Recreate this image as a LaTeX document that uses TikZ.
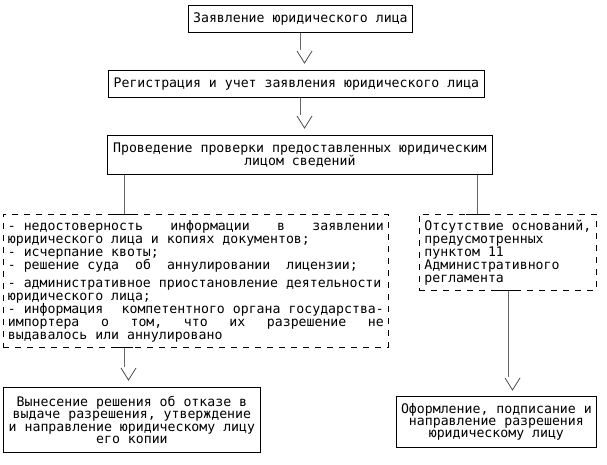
\documentclass[tikz,border=0pt]{standalone}
\usepackage{fontspec}
\newfontfamily\monofnt{DejaVu Sans Mono}
\newcommand{\boxfont}[1]{\monofnt\fontsize{13.2}{#1}\selectfont\lineskiplimit=-20pt\relax\parindent=0pt\relax}
\newcommand{\vhead}[1]{\draw[vtip] (#1) ++(-3,1) -- ++(7.5,12) -- ++(7.5,-12);}
\newcommand{\jline}[2]{\makebox[#1][l]{#2}}
\tikzset{
  txt/.style={font={\boxfont{13}}, inner sep=0pt},
  box/.style={txt, draw, line width=.8pt, anchor=north west, align=center},
  dbox/.style={txt, draw, line width=.8pt, dash pattern=on 6pt off 6pt, anchor=north west, align=left},
  stem/.style={line width=1pt, black!60},
  vtip/.style={line width=.8pt, black!70},
  joint/.style={line width=.8pt}
}
\begin{document}
\begin{tikzpicture}[x=1pt,y=-1pt]
\useasboundingbox (0,0) rectangle (607,465);
\node[box,minimum width=224,minimum height=27] (zayav) at (188,5) {Заявление юридического лица};
\node[box,minimum width=376,minimum height=27] (reg) at (108,70) {Регистрация и учет заявления юридического лица};
\node[box,minimum width=385,minimum height=39] (check) at (107,135) {Проведение проверки предоставленных юридическим\\лицом сведений};
\node[dbox,text width=376pt,minimum width=385,minimum height=133] (fail) at (3,214) {%
\spaceskip=0pt\relax\xspaceskip=0pt\relax
\jline{376pt}{- недостоверность\hfill\ информации\hfill\ в\hfill\ заявлении}\\
юридического лица и копиях документов;\\
- исчерпание квоты;\\
\jline{350pt}{- решение суда\hfill\ об\hfill\ аннулировании\hfill\ лицензии;}\\[5pt]
- административное приостановление деятельности\\
юридического лица;\\
\jline{376pt}{- информация\hfill\ компетентного органа государства-}\\
\jline{376pt}{импортера\hfill\ о\hfill\ том,\hfill\ что\hfill\ их\hfill\ разрешение\hfill\ не}\\
выдавалось или аннулировано};
\node[dbox,minimum width=177,minimum height=76] (ok) at (419,214) {Отсутствие оснований,\\предусмотренных\\пунктом 11\\Административного\\регламента};
\node[box,minimum width=257,minimum height=65,font={\boxfont{12.3}}] (deny) at (3,387) {Вынесение решения об отказе в\\выдаче разрешения, утверждение\\и направление юридическому лицу\\его копии};
\node[box,minimum width=200,minimum height=51,font={\boxfont{12.3}}] (grant) at (396,396) {Оформление, подписание и\\направление разрешения\\юридическому лицу};
\coordinate (s1) at (300,50);
\coordinate (s2) at (300,115);
\coordinate (j1) at (124,214);
\coordinate (j2) at (477,214);
\coordinate (s3) at (124,367);
\coordinate (s4) at (508,377);
\draw[stem] (zayav.south -| s1) -- (s1);
\vhead{s1}
\draw[stem] (reg.south -| s2) -- (s2);
\vhead{s2}
\draw[stem] (check.south -| j1) -- (j1);
\draw[stem] (check.south -| j2) -- (j2);
\draw[joint] (j1) ++(-11,0) -- ++(20,0);
\draw[joint] (j2) ++(-11,0) -- ++(24,0);
\draw[stem] (fail.south -| s3) -- (s3);
\draw[joint] (fail.south -| s3) ++(-9,0) -- ++(18,0);
\vhead{s3}
\draw[stem] (ok.south -| s4) -- (s4);
\draw[joint] (ok.south -| s4) ++(-13,0) -- ++(25,0);
\vhead{s4}
\end{tikzpicture}
\end{document}
